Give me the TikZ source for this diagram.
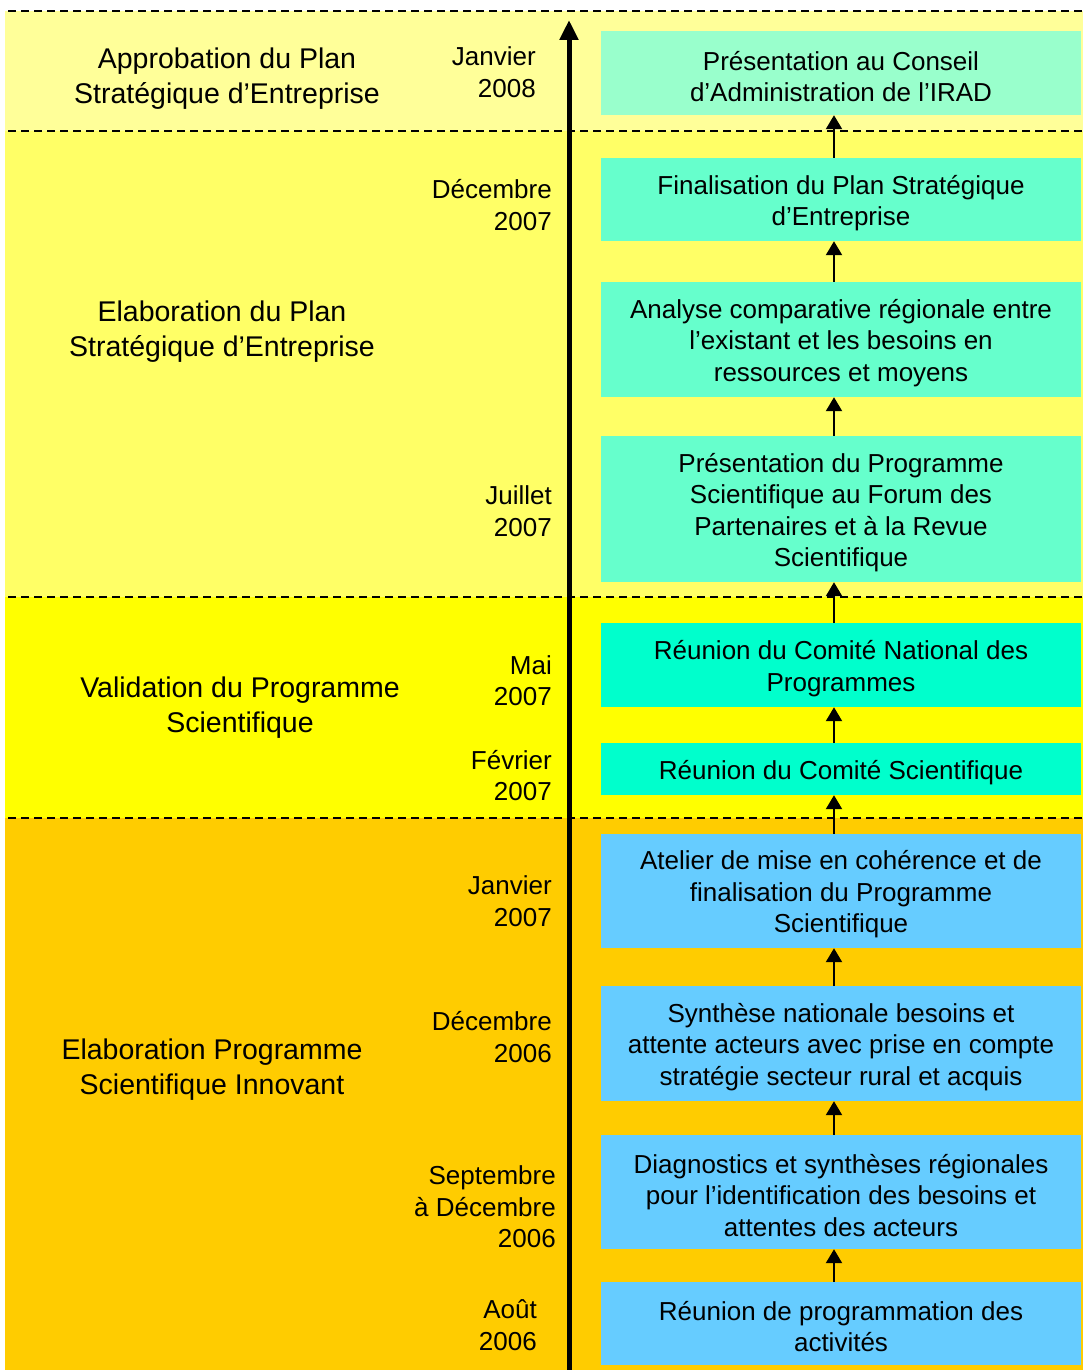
\documentclass[tikz,border=0pt]{standalone}
\usepackage{fontspec}
\setmainfont{Liberation Sans}
\usetikzlibrary{arrows.meta}
\definecolor{bandA}{HTML}{FFFF99}
\definecolor{bandB}{HTML}{FFFF66}
\definecolor{bandC}{HTML}{FFFF00}
\definecolor{bandD}{HTML}{FFCC00}
\definecolor{boxA}{HTML}{99FFCC}
\definecolor{boxB}{HTML}{66FFCC}
\definecolor{boxC}{HTML}{00FFCC}
\definecolor{boxD}{HTML}{66CCFF}
\tikzset{
  x=1pt, y=-1pt,
  stepbox/.style={minimum width=480pt, inner sep=0pt},
  steptext/.style={align=center, inner sep=0pt, font=\fontsize{26}{31.5}\selectfont},
  phaselabel/.style={align=center, inner sep=0pt, font=\fontsize{28.5}{34.5}\selectfont},
  datelabel/.style={align=right, anchor=east, inner sep=0pt, font=\fontsize{26}{31.5}\selectfont},
  sep/.style={dashed, dash pattern=on 8pt off 5pt, line width=1.4pt},
  link/.style={line width=2.2pt, -{Triangle[length=14pt,width=16pt]}},
}
\begin{document}
\begin{tikzpicture}
\useasboundingbox (0,0) rectangle (1083,1370);
\fill[white] (0,0) rectangle (1083,1370);
% bands
\fill[bandA] (5,11) rectangle (1083,131);
\fill[bandB] (5,131) rectangle (1083,597);
\fill[bandC] (5,597) rectangle (1083,818);
\fill[bandD] (5,818) rectangle (1083,1370);
\draw[sep] (8,11) -- (1083,11);
\draw[sep] (8,131) -- (1083,131);
\draw[sep] (8,597) -- (1083,597);
\draw[sep] (8,818) -- (1083,818);
% phase labels
\node[phaselabel] (p1) at (227,78.5) {Approbation du Plan\\Stratégique d’Entreprise};
\node[phaselabel] (p2) at (222,331.5) {Elaboration du Plan\\Stratégique d’Entreprise};
\node[phaselabel] (p3) at (240,707.5) {Validation du Programme\\Scientifique};
\node[phaselabel] (p4) at (212,1069.5) {Elaboration Programme\\Scientifique Innovant};
% dates
\node[datelabel] (d1) at (536,72) {Janvier\\2008};
\node[datelabel] (d2) at (552,205) {Décembre\\2007};
\node[datelabel] (d3) at (552,511) {Juillet\\2007};
\node[datelabel] (d4) at (552,680.5) {Mai\\2007};
\node[datelabel] (d5) at (552,775.5) {Février\\2007};
\node[datelabel] (d6) at (552,901) {Janvier\\2007};
\node[datelabel] (d7) at (552,1037) {Décembre\\2006};
\node[datelabel] (d8) at (556,1207) {Septembre\\à Décembre\\2006};
\node[datelabel] (d9) at (537,1325) {Août\\2006};
% main time axis
\coordinate (axb) at (569,1370);
\coordinate (axt) at (569,20);
\draw[line width=5pt, -{Triangle[length=20pt,width=18pt]}] (axb) -- (axt);
% boxes
\node[stepbox, fill=boxA, minimum height=84pt] (b1) at (841,73) {};
\node[stepbox, fill=boxB, minimum height=83pt] (b2) at (841,199.5) {};
\node[stepbox, fill=boxB, minimum height=115pt] (b3) at (841,339.5) {};
\node[stepbox, fill=boxB, minimum height=146pt] (b4) at (841,509) {};
\node[stepbox, fill=boxC, minimum height=84pt] (b5) at (841,665) {};
\node[stepbox, fill=boxC, minimum height=52pt] (b6) at (841,769) {};
\node[stepbox, fill=boxD, minimum height=114pt] (b7) at (841,891) {};
\node[stepbox, fill=boxD, minimum height=115pt] (b8) at (841,1043.5) {};
\node[stepbox, fill=boxD, minimum height=114pt] (b9) at (841,1192) {};
\node[stepbox, fill=boxD, minimum height=83pt] (b10) at (841,1323.5) {};
% box texts
\node[steptext] (t1) at ([yshift=-3.5pt]b1.center) {Présentation au Conseil\\d’Administration de l’IRAD};
\node[steptext] (t2) at ([yshift=-3.5pt]b2.center) {Finalisation du Plan Stratégique\\d’Entreprise};
\node[steptext] (t3) at ([yshift=-3.5pt]b3.center) {Analyse comparative régionale entre\\l’existant et les besoins en\\ressources et moyens};
\node[steptext] (t4) at ([yshift=-3.5pt]b4.center) {Présentation du Programme\\Scientifique au Forum des\\Partenaires et à la Revue\\Scientifique};
\node[steptext] (t5) at ([yshift=-3.5pt]b5.center) {Réunion du Comité National des\\Programmes};
\node[steptext] (t6) at ([yshift=-4pt]b6.center) {Réunion du Comité Scientifique};
\node[steptext] (t7) at ([yshift=-3.5pt]b7.center) {Atelier de mise en cohérence et de\\finalisation du Programme\\Scientifique};
\node[steptext] (t8) at ([yshift=-3.5pt]b8.center) {Synthèse nationale besoins et\\attente acteurs avec prise en compte\\stratégie secteur rural et acquis};
\node[steptext] (t9) at ([yshift=-3.5pt]b9.center) {Diagnostics et synthèses régionales\\pour l’identification des besoins et\\attentes des acteurs};
\node[steptext] (t10) at ([yshift=-3pt]b10.center) {Réunion de programmation des\\activités};
% links
\coordinate (ax) at (834,0);
\foreach \lo/\hi in {b10/b9, b9/b8, b8/b7, b7/b6, b6/b5, b5/b4, b4/b3, b3/b2, b2/b1}
  \draw[link] (\lo.north -| ax) -- (\hi.south -| ax);
\end{tikzpicture}
\end{document}
